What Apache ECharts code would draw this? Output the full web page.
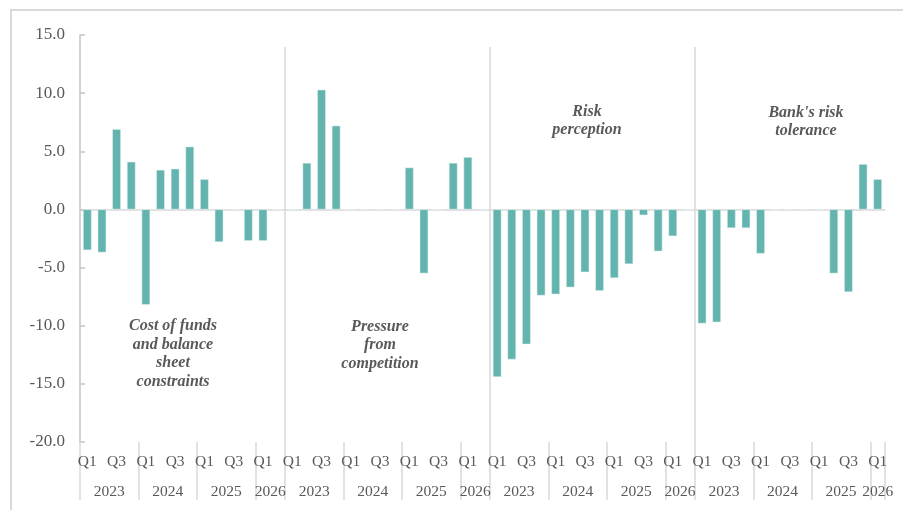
<!DOCTYPE html>
<html>
<head>
<meta charset="utf-8">
<script src="https://cdn.jsdelivr.net/npm/echarts@6/dist/echarts.min.js"></script>
<style>html,body{margin:0;padding:0;background:#fff;}#c{width:903px;height:510px;}</style>
</head>
<body>
<div id="c"></div>
<script>
// ---- data ----
var years = ['2023', '2024', '2025', '2026'];
var quarterNames = ['Q1', 'Q2', 'Q3', 'Q4'];
var panelNames = ['Cost of funds\nand balance\nsheet\nconstraints', 'Pressure\nfrom\ncompetition', 'Risk\nperception', "Bank's risk\ntolerance"];
var costOfFunds    = [-3.5, -3.7, 6.9, 4.1, -8.2, 3.4, 3.5, 5.4, 2.6, -2.8, 0, -2.7, -2.7, 0];
var competition    = [0, 4.0, 10.3, 7.2, 0, 0, 0, 0, 3.6, -5.5, 0, 4.0, 4.5, 0];
var riskPerception = [-14.4, -12.9, -11.6, -7.4, -7.3, -6.7, -5.4, -7.0, -5.9, -4.7, -0.5, -3.6, -2.3, 0];
var riskTolerance  = [-9.8, -9.7, -1.6, -1.6, -3.8, 0, 0, 0, 0, -5.5, -7.1, 3.9, 2.6];
var yTicks = { min: -20, max: 15, step: 5 };

// ---- build ----
var panels = [costOfFunds, competition, riskPerception, riskTolerance];
var cats = [], values = [];
var halfCount = 0;
panels.forEach(function (p) { halfCount += p.length; });
halfCount = halfCount * 2 + 1;
var qLabels = new Array(halfCount).fill('');
var yLabels = new Array(halfCount).fill('');
var tickAt = {}, panelAt = {};
var pos = 0;
panels.forEach(function (p, pi) {
  if (pi > 0) panelAt[2 * pos] = true;
  for (var j = 0; j < p.length; j++) {
    var y = years[Math.floor(j / 4)], q = quarterNames[j % 4];
    cats.push(y + ' ' + q);
    values.push(p[j]);
    if (j % 2 === 0) qLabels[2 * (pos + j) + 1] = q;
  }
  for (var yi = 0; yi * 4 < p.length; yi++) {
    var start = pos + yi * 4;
    var len = Math.min(4, p.length - yi * 4);
    tickAt[2 * start] = true;
    yLabels[2 * start + len] = years[yi];
  }
  pos += p.length;
});
tickAt[2 * pos] = true;
var halfCats = [];
for (var i = 0; i < halfCount; i++) halfCats.push('p' + i);

var FONT = 'Liberation Serif';
var TXT = '#595959';
var LINE = '#d9d9d9';

var chart = echarts.init(document.getElementById('c'));
var gridL = 80, gridR = 18, gridT = 35, gridB = 68;

var option = {
  animation: false,
  backgroundColor: '#fff',
  grid: [
    { left: gridL, right: gridR, top: gridT, bottom: gridB },
    { left: gridL, right: gridR, top: 47, bottom: gridB }
  ],
  xAxis: [
    { type: 'category', gridIndex: 0, data: cats,
      axisLine: { onZero: true, lineStyle: { color: LINE, width: 1.5 } },
      axisTick: { show: false }, axisLabel: { show: false } },
    { type: 'category', gridIndex: 0, data: halfCats, boundaryGap: false, position: 'bottom',
      axisLine: { show: false, onZero: false },
      axisTick: { show: true, length: 58, interval: function (idx) { return !!tickAt[idx]; },
                  lineStyle: { color: LINE, width: 1.5 } },
      axisLabel: { interval: 0, margin: 42, fontFamily: FONT, fontSize: 15.5, color: TXT,
                   formatter: function (v, idx) { return yLabels[idx]; } } },
    { type: 'category', gridIndex: 0, data: halfCats, boundaryGap: false, position: 'bottom',
      axisLine: { show: false, onZero: false }, axisTick: { show: false },
      axisLabel: { interval: 0, margin: 12, fontFamily: FONT, fontSize: 15.5, color: TXT,
                   formatter: function (v, idx) { return qLabels[idx]; } } },
    { type: 'category', gridIndex: 1, data: halfCats, boundaryGap: false,
      axisLine: { show: false }, axisTick: { show: false }, axisLabel: { show: false },
      splitLine: { show: true, interval: function (idx) { return !!panelAt[idx]; },
                   lineStyle: { color: LINE, width: 1.5 } } }
  ],
  yAxis: [
    { type: 'value', gridIndex: 0, min: yTicks.min, max: yTicks.max, interval: yTicks.step,
      axisLine: { show: true, lineStyle: { color: '#c4c4c4', width: 1.5 } },
      axisTick: { show: true, inside: true, length: 5, lineStyle: { color: '#c4c4c4', width: 1.5 } },
      splitLine: { show: false },
      axisLabel: { margin: 15, fontFamily: FONT, fontSize: 17, color: TXT,
                   formatter: function (v) { return v.toFixed(1); } } },
    { type: 'value', gridIndex: 1, min: 0, max: 1, show: false, splitLine: { show: false } }
  ],
  series: [
    { type: 'bar', xAxisIndex: 0, yAxisIndex: 0, data: values, barWidth: 8.5,
      itemStyle: { color: '#63b3ae', borderColor: '#e6f3f2', borderWidth: 0.5 } }
  ],
  graphic: [
    { type: 'rect', shape: { x: 11, y: 10, width: 1000, height: 1000 },
      style: { fill: 'none', stroke: LINE, lineWidth: 2 }, silent: true }
  ]
};
var annPos = [[173, 354], [380, 345], [587, 121], [806, 122]];
panelNames.forEach(function (t, i) {
  option.graphic.push({ type: 'text', x: annPos[i][0], y: annPos[i][1],
    style: { text: t, fill: TXT, font: 'italic bold 16px "Liberation Serif"', align: 'center',
             verticalAlign: 'middle', lineHeight: 18.6 } });
});
chart.setOption(option);
</script>
</body>
</html>
